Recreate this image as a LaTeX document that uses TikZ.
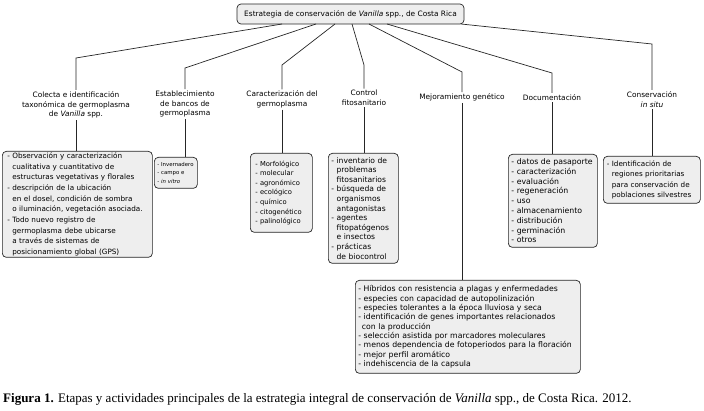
\documentclass[tikz,border=0pt]{standalone}
\usepackage{fontspec}
\setsansfont{DejaVu Sans}
\newfontfamily\capfont{Liberation Serif}
\newcommand{\hi}{\phantom{- }}
\begin{document}
\begin{tikzpicture}[x=1pt,y=-1pt,
  box/.style={draw=black!85, fill=gray!13, rounded corners=4pt, line width=0.7pt,
    align=left, inner sep=0pt, anchor=north west,
    execute at begin node={\hyphenpenalty=10000\relax}},
  lbl/.style={align=center, inner sep=1.5pt, font=\sffamily\fontsize{7.4}{9.6}\selectfont},
  conn/.style={line width=0.7pt, draw=black!85}]
\useasboundingbox (0,0) rectangle (704,411);

% top box
\node[box, anchor=center, minimum width=227pt, minimum height=20pt,
  font=\sffamily\fontsize{7.4}{8}\selectfont, align=center] (top) at (350.5,14)
  {Estrategia de conservación de \textit{Vanilla} spp., de Costa Rica};

% start and bend points
\coordinate (s1) at (282,24); \coordinate (b1) at (76,58);
\coordinate (s2) at (316,24); \coordinate (b2) at (185,68);
\coordinate (s3) at (335,24); \coordinate (b3) at (282,65);
\coordinate (s4) at (352,24); \coordinate (b4) at (364,65);
\coordinate (s5) at (369,24); \coordinate (b5) at (462,72);
\coordinate (s6) at (387,24); \coordinate (b6) at (552,73);
\coordinate (s7) at (461,24); \coordinate (b7) at (652,44);

% labels
\node[lbl] (l1) at (76,105) {Colecta e identificación\\taxonómica de germoplasma\\de \textit{Vanilla} spp.};
\node[lbl] (l2) at (185,104) {Establecimiento\\de bancos de\\germoplasma};
\node[lbl] (l3) at (282,99.5) {Caracterización del\\germoplasma};
\node[lbl] (l4) at (364,98) {Control\\fitosanitario};
\node[lbl] (l5) at (462,97.5) {Mejoramiento genético};
\node[lbl] (l6) at (552,97.5) {Documentación};
\node[lbl] (l7) at (652,99.5) {Conservación\\\textit{in situ}};

% boxes
\node[box, minimum width=150pt, minimum height=106pt, text width=140pt,
  font=\sffamily\fontsize{7.25}{10.7}\selectfont] (x1) at (2,151)
  {- Observación y caracterización\\\hi cualitativa y cuantitativo de\\\hi estructuras vegetativas y florales\\- descripción de la ubicación\\\hi en el dosel, condición de sombra\\\hi o iluminación, vegetación asociada.\\- Todo nuevo registro de\\\hi germoplasma debe ubicarse\\\hi a través de sistemas de\\\hi posicionamiento global (GPS)};
\node[box, minimum width=43pt, minimum height=31pt, text width=37pt,
  font=\sffamily\fontsize{5.4}{8.3}\selectfont] (x2) at (154,157)
  {- Invernadero\\- campo e\\- \textit{in vitro}};
\node[box, minimum width=62pt, minimum height=79pt, text width=52pt,
  font=\sffamily\fontsize{6.75}{9.6}\selectfont] (x3) at (250,153)
  {- Morfológico\\- molecular\\- agronómico\\- ecológico\\- químico\\- citogenético\\- palinológico};
\node[box, minimum width=70pt, minimum height=110pt, text width=64pt,
  font=\sffamily\fontsize{7.6}{9.6}\selectfont] (x4) at (328,153)
  {- inventario de\\\hi problemas\\\hi fitosanitarios\\- búsqueda de\\\hi organismos\\\hi antagonistas\\- agentes\\\hi fitopatógenos\\\hi e insectos\\- prácticas\\\hi de biocontrol};
\node[box, minimum width=225pt, minimum height=93pt, text width=219pt,
  font=\sffamily\fontsize{7.75}{9.3}\selectfont] (x5) at (355,280)
  {- Híbridos con resistencia a plagas y enfermedades\\- especies con capacidad de autopolinización\\- especies tolerantes a la época lluviosa y seca\\- identificación de genes importantes relacionados\\\hspace{1pt} con la producción\\- selección asistida por marcadores moleculares\\- menos dependencia de fotoperiodos para la floración\\- mejor perfil aromático\\- indehiscencia de la capsula};
\node[box, minimum width=89pt, minimum height=93pt, text width=83pt,
  font=\sffamily\fontsize{7.8}{9.8}\selectfont] (x6) at (508,154)
  {- datos de pasaporte\\- caracterización\\- evaluación\\- regeneración\\- uso\\- almacenamiento\\- distribución\\- germinación\\- otros};
\node[box, minimum width=97pt, minimum height=47pt, text width=90pt,
  font=\sffamily\fontsize{7.2}{10.3}\selectfont] (x7) at (603,156)
  {- Identificación de\\\hi regiones prioritarias\\\hi para conservación de\\\hi poblaciones silvestres};

% connectors
\foreach \i in {1,...,7}{
  \draw[conn] (s\i) -- (b\i) -- (l\i.north);
  \draw[conn] (l\i.south) -- (l\i.south |- x\i.north);
}

% caption
\node[anchor=west, inner sep=0pt, font=\capfont\fontsize{13}{15}\selectfont] (cap) at (3,399)
  {\textbf{Figura 1.} Etapas y actividades principales de la estrategia integral de conservación de \textit{Vanilla} spp., de Costa Rica. 2012.};
\end{tikzpicture}
\end{document}
